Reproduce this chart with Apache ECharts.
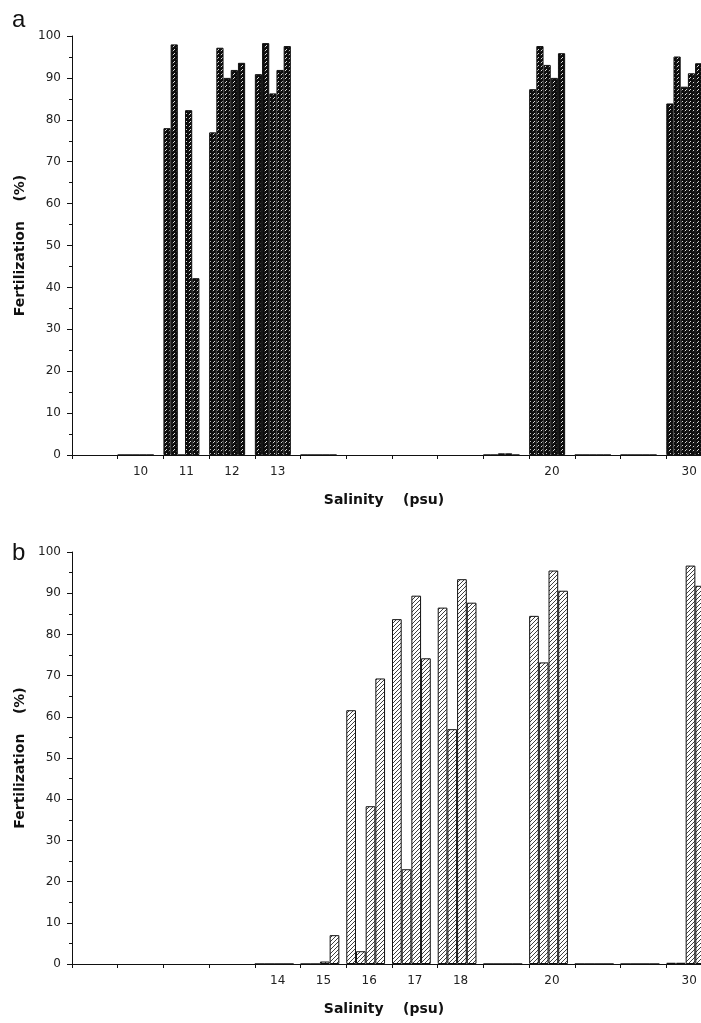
<!DOCTYPE html>
<html>
<head>
<meta charset="utf-8">
<script src="https://cdn.jsdelivr.net/npm/echarts@6/dist/echarts.min.js"></script>
<style>
  html, body { margin: 0; padding: 0; background: #fff; overflow: hidden; }
  /* the last salinity slot runs past the right edge, as in the printed figure */
  #main { width: 720px; height: 1023px; }
</style>
</head>
<body>
<div id="main"></div>
<script>
// panel a - salinity slots (blank slots keep the spacing of the original axis)
var salA = ['', '10', '11', '12', '13', '', '', '', '', '', '20', '', '', '30'];
// five replicate crosses, fertilization (%)
var a1 = [null, 0, 78, 77, 90.9, 0, null, null, null, 0, 87.3, 0, 0, 83.9];
var a2 = [null, 0, 98, 97.2, 98.3, 0, null, null, null, 0, 97.6, 0, 0, 95.1];
var a3 = [null, 0, 0, 90, 86.3, 0, null, null, null, 0.4, 93.1, 0, 0, 87.9];
var a4 = [null, 0, 82.3, 91.9, 91.9, 0, null, null, null, 0.4, 90, 0, 0, 91.1];
var a5 = [null, 0, 42.2, 93.6, 97.6, 0, null, null, null, 0, 95.9, 0, 0, 93.5];

// panel b - four replicate crosses
var salB = ['', '', '', '', '14', '15', '16', '17', '18', '', '20', '', '', '30'];
var b1 = [null, null, null, null, 0, 0, 61.6, 83.7, 86.5, 0, 84.5, 0, 0, 0.3];
var b2 = [null, null, null, null, 0, 0, 3.1, 23, 57, 0, 73.2, 0, 0, 0.3];
var b3 = [null, null, null, null, 0, 0.6, 38.3, 89.4, 93.4, 0, 95.5, 0, 0, 96.7];
var b4 = [null, null, null, null, 0, 7, 69.3, 74.2, 87.7, 0, 90.6, 0, 0, 91.8];

var yMin = 0, yMax = 100, yStep = 10;

// hatch fills
function darkHatch() {
  var c = document.createElement('canvas');
  c.width = 4; c.height = 4;
  var ctx = c.getContext('2d');
  ctx.fillStyle = '#0d0d0d';
  ctx.fillRect(0, 0, 4, 4);
  ctx.strokeStyle = '#f2f2f2';
  ctx.lineWidth = 0.9;
  ctx.beginPath();
  ctx.moveTo(0.8, 3.2);
  ctx.lineTo(3.0, 1.0);
  ctx.stroke();
  return { image: c, repeat: 'repeat' };
}
function lightHatch() {
  var s = 4;
  var c = document.createElement('canvas');
  c.width = s; c.height = s;
  var ctx = c.getContext('2d');
  ctx.fillStyle = '#fff';
  ctx.fillRect(0, 0, s, s);
  ctx.strokeStyle = '#2a2a2a';
  ctx.lineWidth = 0.9;
  ctx.beginPath();
  ctx.moveTo(-1, s + 1); ctx.lineTo(s + 1, -1);
  ctx.moveTo(-1, 1); ctx.lineTo(1, -1);
  ctx.moveTo(s - 1, s + 1); ctx.lineTo(s + 1, s - 1);
  ctx.stroke();
  return { image: c, repeat: 'repeat' };
}

var chart = echarts.init(document.getElementById('main'), null, { renderer: 'canvas' });

var tickFont = { fontFamily: 'DejaVu Sans', fontSize: 12, color: '#222' };
var nameFont = { fontFamily: 'DejaVu Sans', fontSize: 14, fontWeight: 'bold', color: '#111' };

function xAx(idx, cats) {
  return {
    type: 'category', gridIndex: idx, data: cats,
    name: 'Salinity    (psu)', nameLocation: 'middle', nameGap: 38,
    nameTextStyle: Object.assign({ padding: [0, 16, 0, 0] }, nameFont),
    axisLine: { lineStyle: { color: '#111', width: 1 } },
    axisTick: { show: true, interval: 0, length: 4, lineStyle: { color: '#111' } },
    axisLabel: Object.assign({ interval: 0, margin: 11 }, tickFont),
    splitLine: { show: false }
  };
}
function yAx(idx) {
  return {
    type: 'value', gridIndex: idx, min: yMin, max: yMax, interval: yStep,
    name: 'Fertilization    (%)', nameLocation: 'middle', nameGap: 42,
    nameTextStyle: nameFont,
    axisLine: { show: true, lineStyle: { color: '#111', width: 1 } },
    axisTick: { show: true, length: 5, lineStyle: { color: '#111' } },
    minorTick: { show: true, splitNumber: 2, length: 3, lineStyle: { color: '#111' } },
    axisLabel: Object.assign({ margin: 11 }, tickFont),
    splitLine: { show: false }
  };
}

function bars(idx, list, width, spacerWidth, fill) {
  var out = list.map(function (d) {
    return {
      type: 'bar', xAxisIndex: idx, yAxisIndex: idx, data: d,
      barWidth: width, barGap: '0%', barCategoryGap: '0%',
      itemStyle: { color: fill, borderColor: '#111', borderWidth: 1 },
      silent: true
    };
  });
  // empty column so the replicates sit at the left of each slot
  out.push({
    type: 'bar', xAxisIndex: idx, yAxisIndex: idx, data: [],
    barWidth: spacerWidth, barGap: '0%', barCategoryGap: '0%', silent: true
  });
  return out;
}

var option = {
  animation: false,
  backgroundColor: '#fff',
  grid: [
    { left: 72, top: 36, width: 640, height: 419 },
    { left: 72, top: 552, width: 640, height: 412 }
  ],
  xAxis: [xAx(0, salA), xAx(1, salB)],
  yAxis: [yAx(0), yAx(1)],
  graphic: [
    { type: 'text', left: 12, top: 8, style: { text: 'a', font: '24px "Liberation Sans"', fill: '#111' } },
    { type: 'text', left: 12, top: 541, style: { text: 'b', font: '24px "Liberation Sans"', fill: '#111' } }
  ],
  series: [].concat(
    bars(0, [a1, a2, a3, a4, a5], '15.75%', '21.25%', darkHatch()),
    bars(1, [b1, b2, b3, b4], '21.2%', '15.2%', lightHatch())
  )
};

chart.setOption(option);
</script>
</body>
</html>
